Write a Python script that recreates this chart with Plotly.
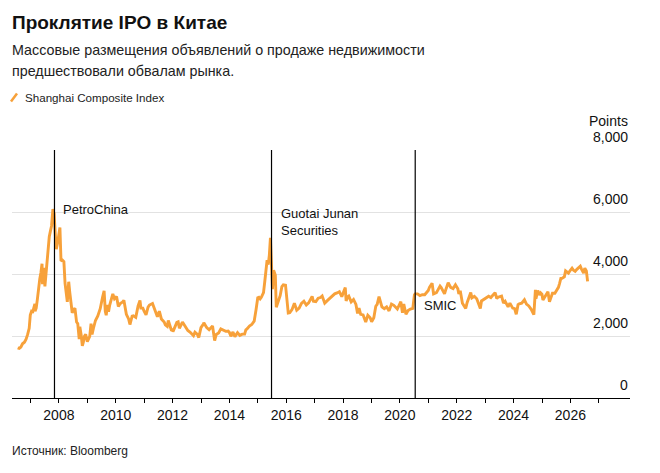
import plotly.graph_objects as go

# ---------------- data ----------------
dates = [
    "2006-07-20", "2006-08-10", "2006-08-30", "2006-09-20", "2006-10-15", "2006-11-05", "2006-11-25", "2006-12-15", "2006-12-29",
    "2007-01-15", "2007-01-31", "2007-02-15", "2007-02-26", "2007-02-28", "2007-03-15", "2007-03-30", "2007-04-15", "2007-04-30",
    "2007-05-15", "2007-05-29", "2007-06-04", "2007-06-20", "2007-07-05", "2007-07-20", "2007-08-10", "2007-08-30", "2007-09-15",
    "2007-09-28", "2007-10-16", "2007-10-31", "2007-11-15", "2007-11-28", "2007-12-15", "2007-12-28",
    "2008-01-14", "2008-01-28", "2008-02-15", "2008-03-05", "2008-03-20", "2008-04-18", "2008-04-25", "2008-05-06", "2008-05-20",
    "2008-06-10", "2008-06-20", "2008-07-10", "2008-07-25", "2008-08-15", "2008-08-30", "2008-09-18", "2008-09-26", "2008-10-15",
    "2008-10-28", "2008-11-10", "2008-11-25", "2008-12-10", "2008-12-31",
    "2009-01-15", "2009-01-31", "2009-02-17", "2009-03-02", "2009-03-20", "2009-04-15", "2009-05-15", "2009-06-15", "2009-07-15",
    "2009-08-04", "2009-08-19", "2009-08-31", "2009-09-15", "2009-09-30", "2009-10-15", "2009-11-24", "2009-12-15",
    "2010-01-11", "2010-02-03", "2010-02-28", "2010-03-31", "2010-04-15", "2010-05-17", "2010-06-15", "2010-07-02", "2010-07-30",
    "2010-08-15", "2010-09-15", "2010-10-15", "2010-11-08", "2010-11-20", "2010-12-15", "2010-12-31",
    "2011-01-25", "2011-02-20", "2011-03-10", "2011-04-18", "2011-05-15", "2011-06-20", "2011-07-15", "2011-08-10", "2011-09-15",
    "2011-09-30", "2011-10-24", "2011-11-07", "2011-12-15", "2011-12-31",
    "2012-01-06", "2012-02-25", "2012-03-13", "2012-03-29", "2012-05-07", "2012-06-15", "2012-07-15", "2012-08-15", "2012-09-26",
    "2012-10-15", "2012-11-15", "2012-12-03", "2012-12-31",
    "2013-01-31", "2013-02-06", "2013-03-15", "2013-04-15", "2013-05-29", "2013-06-25", "2013-07-15", "2013-08-15", "2013-09-12",
    "2013-10-15", "2013-11-15", "2013-12-15", "2013-12-31",
    "2014-01-20", "2014-02-15", "2014-03-12", "2014-04-15", "2014-05-15", "2014-06-15", "2014-07-15", "2014-07-31", "2014-08-15",
    "2014-09-15", "2014-10-15", "2014-11-15", "2014-12-09", "2014-12-31",
    "2015-01-15", "2015-01-31", "2015-02-15", "2015-03-15", "2015-03-31", "2015-04-15", "2015-04-30", "2015-05-15", "2015-05-29",
    "2015-06-12", "2015-06-19", "2015-07-08", "2015-07-23", "2015-08-14", "2015-08-26", "2015-09-15", "2015-10-15", "2015-11-06",
    "2015-11-25", "2015-12-23",
    "2016-01-15", "2016-01-27", "2016-02-15", "2016-03-15", "2016-04-15", "2016-05-15", "2016-06-15", "2016-07-15", "2016-08-15",
    "2016-09-15", "2016-10-15", "2016-11-29", "2016-12-15",
    "2017-01-15", "2017-02-15", "2017-03-15", "2017-04-07", "2017-05-10", "2017-06-15", "2017-07-15", "2017-08-15", "2017-09-15",
    "2017-10-15", "2017-11-14", "2017-12-15",
    "2018-01-29", "2018-02-09", "2018-02-28", "2018-03-15", "2018-04-15", "2018-05-15", "2018-06-15", "2018-07-06", "2018-07-25",
    "2018-08-15", "2018-09-15", "2018-10-19", "2018-11-15", "2018-12-15", "2018-12-31",
    "2019-01-03", "2019-01-31", "2019-02-25", "2019-03-15", "2019-04-08", "2019-05-15", "2019-06-15", "2019-07-15", "2019-08-15",
    "2019-09-15", "2019-10-15", "2019-11-29", "2019-12-31",
    "2020-01-13", "2020-02-03", "2020-02-20", "2020-03-19", "2020-04-15", "2020-05-15", "2020-06-15", "2020-07-06", "2020-07-15",
    "2020-08-15", "2020-09-15", "2020-10-15", "2020-11-15", "2020-12-31",
    "2021-01-15", "2021-02-18", "2021-03-09", "2021-04-15", "2021-05-31", "2021-06-15", "2021-07-28", "2021-08-15", "2021-09-13",
    "2021-10-15", "2021-11-15", "2021-12-15",
    "2022-01-15", "2022-01-28", "2022-02-15", "2022-03-15", "2022-04-26", "2022-05-15", "2022-06-30", "2022-07-15", "2022-08-15",
    "2022-09-15", "2022-10-31", "2022-11-15", "2022-12-15",
    "2023-01-31", "2023-02-15", "2023-03-15", "2023-04-15", "2023-05-09", "2023-05-31", "2023-06-15", "2023-07-31", "2023-08-15",
    "2023-08-25", "2023-09-15", "2023-10-23", "2023-11-15", "2023-12-21",
    "2024-01-15", "2024-02-05", "2024-02-28", "2024-03-15", "2024-04-15", "2024-05-20", "2024-06-15", "2024-07-15", "2024-08-15",
    "2024-09-18", "2024-10-08", "2024-10-15", "2024-11-07", "2024-11-30", "2024-12-15", "2024-12-31",
    "2025-01-13", "2025-02-15", "2025-03-18", "2025-04-07", "2025-04-30", "2025-05-15", "2025-06-15", "2025-06-30", "2025-07-15",
    "2025-07-31", "2025-08-15", "2025-08-31", "2025-09-15", "2025-09-30", "2025-10-15", "2025-10-31", "2025-11-20", "2025-12-07",
    "2025-12-31",
    "2026-01-22", "2026-02-10", "2026-03-03", "2026-03-25", "2026-04-15", "2026-05-08", "2026-05-25", "2026-06-20", "2026-07-05",
    "2026-07-25", "2026-08-10",
]
index_points = [
    1620, 1600, 1640, 1750, 1800, 1900, 2050, 2250, 2675,
    2800, 2786, 2900, 3040, 2800, 2900, 3180, 3600, 3840,
    4050, 4330, 3670, 4200, 3600, 4060, 4750, 5200, 5400,
    5550, 6090, 5950, 5300, 4800, 5000, 5260,
    5500, 4420, 4450, 4400, 3700, 3100, 3550, 3750, 3400,
    3000, 2750, 2850, 2900, 2450, 2400, 1900, 2300, 2000,
    1680, 1800, 2000, 2050, 1820,
    1900, 1990, 2400, 2050, 2250, 2500, 2650, 2880, 3250,
    3460, 2800, 2670, 3000, 2780, 3000, 3360, 3200,
    3270, 2950, 3050, 3100, 3150, 2700, 2550, 2370, 2640,
    2650, 2600, 2970, 3150, 2900, 2900, 2800,
    2680, 2930, 3000, 3050, 2850, 2620, 2800, 2550, 2450,
    2360, 2310, 2500, 2200, 2200,
    2140, 2440, 2460, 2250, 2450, 2300, 2180, 2120, 2010,
    2120, 2050, 1950, 2270,
    2385, 2430, 2270, 2200, 2320, 1850, 2050, 2100, 2230,
    2200, 2150, 2160, 2116,
    1990, 2130, 1980, 2110, 2020, 2060, 2060, 2200, 2230,
    2320, 2370, 2480, 2850, 3235,
    3250, 3200, 3250, 3400, 3750, 4100, 4450, 4300, 4610,
    5170, 4480, 3510, 4120, 3960, 2930, 3100, 3300, 3590,
    3650, 3640,
    2900, 2740, 2750, 2850, 3060, 2830, 2900, 3050, 3120,
    3000, 3070, 3280, 3120,
    3110, 3220, 3240, 3290, 3060, 3150, 3220, 3270, 3360,
    3390, 3430, 3270,
    3560, 3130, 3260, 3290, 3100, 3180, 3020, 2730, 2900,
    2700, 2680, 2450, 2670, 2590, 2490,
    2460, 2590, 2960, 3020, 3270, 2940, 2880, 2940, 2810,
    3030, 2990, 2870, 3050,
    3110, 2750, 3030, 2700, 2820, 2870, 2890, 3330, 3360,
    3360, 3300, 3330, 3330, 3470,
    3570, 3700, 3360, 3400, 3610, 3560, 3360, 3510, 3720,
    3570, 3530, 3650,
    3520, 3360, 3460, 3060, 2890, 3080, 3400, 3230, 3280,
    3200, 2890, 3130, 3170,
    3260, 3280, 3240, 3340, 3400, 3210, 3250, 3290, 3170,
    3060, 3120, 2940, 3060, 2900,
    2880, 2700, 3010, 3040, 3060, 3170, 3030, 2970, 2860,
    2690, 3490, 3200, 3470, 3320, 3390, 3350,
    3160, 3320, 3430, 3100, 3280, 3380, 3380, 3440, 3510,
    3570, 3700, 3860, 3860, 3880, 3910, 4100, 4050, 4030,
    4120,
    4190, 4120, 4085, 4150, 4200, 4250, 4150, 4030, 4190,
    4100, 3760,
]
assert len(dates) == len(index_points)

ipo_dates = ["2007-11-05", "2015-06-26", "2020-07-16"]
ipo_labels = ["PetroChina", "Guotai Junan<br>Securities", "SMIC"]
ipo_label_levels = [6075, 5670, 2980]

year_ticks = list(range(2007, 2028))
y_ticks = [0, 2000, 4000, 6000, 8000]
y_tick_labels = ["0", "2,000", "4,000", "6,000", "8,000"]

title = "Проклятие IPO в Китае"
subtitle_lines = ["Массовые размещения объявлений о продаже недвижимости",
                  "предшествовали обвалам рынка."]
legend_label = "Shanghai Composite Index"
source = "Источник: Bloomberg"

# ---------------- styling / layout ----------------
W, H = 660, 473
ML, MR, MT, MB = 12, 30, 150, 75
PLOT_H = H - MT - MB
ORANGE = "#f7a13a"
BASE = "Arial, Liberation Sans, sans-serif"


def py(p):  # pixel row -> paper y
    return (H - MB - p) / PLOT_H


def px(p):  # pixel column -> paper x
    return (p - ML) / (W - ML - MR)


fig = go.Figure()
fig.add_trace(go.Scatter(x=dates, y=index_points, mode="lines",
                         line=dict(color=ORANGE, width=2.9),
                         showlegend=False, hoverinfo="skip"))

shapes = []
annotations = []
for d, lab, lv in zip(ipo_dates, ipo_labels, ipo_label_levels):
    shapes.append(dict(type="line", xref="x", yref="y", x0=d, x1=d, y0=0, y1=8000,
                       line=dict(color="black", width=1.2), layer="above"))
    annotations.append(dict(x=d, y=lv, xref="x", yref="y", text=lab, showarrow=False,
                            xanchor="left", yanchor="middle", xshift=7, align="left",
                            font=dict(family=BASE, size=13, color="#111")))

for v, t in zip(y_ticks, y_tick_labels):
    annotations.append(dict(x=1, y=v, xref="paper", yref="y", text=t, showarrow=False,
                            xanchor="right", yanchor="bottom", yshift=3,
                            font=dict(family=BASE, size=14, color="#111")))
annotations.append(dict(x=1, y=8000, xref="paper", yref="y", text="Points", showarrow=False,
                        xanchor="right", yanchor="bottom", yshift=19,
                        font=dict(family=BASE, size=14, color="#111")))

annotations.append(dict(x=px(10), y=py(22), xref="paper", yref="paper", text="<b>" + title + "</b>",
                        showarrow=False, xanchor="left", yanchor="middle",
                        font=dict(family=BASE, size=19, color="#111")))
for i, line in enumerate(subtitle_lines):
    annotations.append(dict(x=px(10), y=py(50 + 21 * i), xref="paper", yref="paper", text=line,
                            showarrow=False, xanchor="left", yanchor="middle",
                            font=dict(family=BASE, size=14.3, color="#222")))
annotations.append(dict(x=px(23), y=py(97.5), xref="paper", yref="paper", text=legend_label,
                        showarrow=False, xanchor="left", yanchor="middle",
                        font=dict(family=BASE, size=11.6, color="#222")))
shapes.append(dict(type="line", xref="paper", yref="paper", x0=px(11), y0=py(101.5),
                   x1=px(17), y1=py(93.5), line=dict(color=ORANGE, width=2.5)))
annotations.append(dict(x=px(10), y=py(451), xref="paper", yref="paper", text=source,
                        showarrow=False, xanchor="left", yanchor="middle",
                        font=dict(family=BASE, size=12, color="#222")))

fig.update_layout(
    width=W, height=H, margin=dict(l=ML, r=MR, t=MT, b=MB, pad=0),
    paper_bgcolor="white", plot_bgcolor="white",
    shapes=shapes, annotations=annotations, showlegend=False,
    xaxis=dict(type="date", range=["2006-05-08", "2028-02-06"],
               tickvals=[f"{y}-01-01" for y in year_ticks],
               ticktext=[str(y) if y % 2 == 0 else "" for y in year_ticks],
               ticks="outside", ticklen=4, tickcolor="black", tickwidth=1,
               showline=True, linecolor="black", linewidth=1.3,
               showgrid=False, zeroline=False,
               tickfont=dict(family=BASE, size=14, color="#111")),
    yaxis=dict(range=[0, 8000], tickvals=y_ticks, showticklabels=False,
               showgrid=True, gridcolor="#e2e2e2", gridwidth=1,
               zeroline=False, showline=False, ticks=""),
)

fig.write_html("out.html")
